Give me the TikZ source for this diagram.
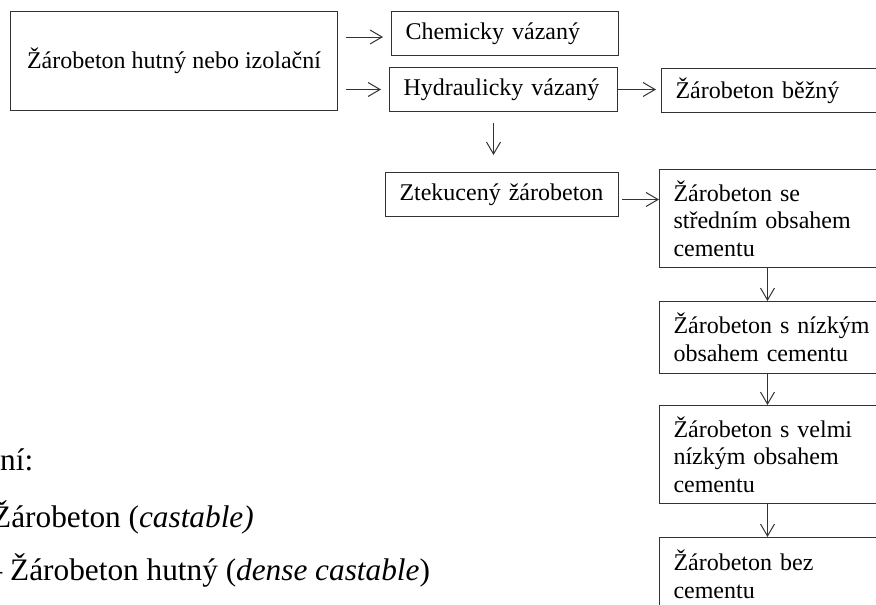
\documentclass[tikz,border=0pt]{standalone}
\usepackage{fontspec}
\setmainfont{Liberation Serif}
\usetikzlibrary{arrows.meta}
\begin{document}
\begin{tikzpicture}[x=1pt,y=-1pt,
  box/.style={draw=black!80, line width=1pt, anchor=north west, inner xsep=14pt, inner ysep=0pt, align=left, font=\fontsize{24}{27.5}\selectfont},
  arr/.style={draw=black!80, line width=1pt, -{Straight Barb[length=12pt,width=14pt,line width=1pt]}},
  note/.style={anchor=base west, inner sep=0pt, font=\fontsize{31.3}{36}\selectfont}]
\useasboundingbox (0,0) rectangle (876,605);
\fill[white] (0,0) rectangle (876,605);
\clip (0,0) rectangle (876,605);
% boxes
\node[box, align=center, minimum width=327pt, minimum height=99pt] (main) at (10,11) {Žárobeton hutný nebo izolační};
\node[box, text width=199pt, minimum height=44pt] (chem) at (391,11) {Chemicky vázaný};
\node[box, text width=200pt, minimum height=44pt] (hyd) at (389,67) {Hydraulicky vázaný};
\node[box, text width=211pt, minimum height=44pt] (bezny) at (661,68) {Žárobeton běžný};
\node[box, text width=205pt, minimum height=44pt] (ztek) at (385,172) {Ztekucený žárobeton};
\node[box, text width=213pt, minimum height=98pt] (stred) at (659,169) {Žárobeton se\\středním obsahem\\cementu};
\node[box, text width=213pt, minimum height=72pt] (nizk) at (659,301) {Žárobeton s nízkým\\obsahem cementu};
\node[box, text width=213pt, minimum height=98pt] (velmi) at (659,405) {Žárobeton s velmi\\nízkým obsahem\\cementu};
\node[box, text width=213pt, minimum height=74pt] (bez) at (659,537) {Žárobeton bez\\cementu};
% connectors
\draw[arr, shorten <=8pt, shorten >=8pt] ([yshift=-3.5pt]main.east |- chem.west) -- ([yshift=-3.5pt]chem.west);
\draw[arr, shorten <=8pt, shorten >=8pt] (main.east |- hyd.west) -- (hyd.west);
\draw[arr, shorten >=5pt] (hyd.east) -- (hyd.east -| bezny.west);
\draw[arr, shorten <=11pt, shorten >=17pt] ([xshift=-10pt]hyd.south) -- ([xshift=-10pt]hyd.south |- ztek.north);
\draw[arr, shorten <=3pt] ([yshift=-5pt]ztek.east) -- ([yshift=-5pt]ztek.east -| stred.west);
\draw[arr] ([xshift=-12.5pt]stred.south) -- ([xshift=-12.5pt]stred.south |- nizk.north);
\draw[arr] ([xshift=-12.5pt]nizk.south) -- ([xshift=-12.5pt]nizk.south |- velmi.north);
\draw[arr] ([xshift=-12.5pt]velmi.south) -- ([xshift=-12.5pt]velmi.south |- bez.north);
% notes
\node[note] (n1) at (0,470) {ní:};
\node[note] (n2) at (-8,527) {Žárobeton (\textit{castable)}};
\node[note] (n3) at (-13.5,580) {– Žárobeton hutný (\textit{dense castable})};
\end{tikzpicture}
\end{document}
